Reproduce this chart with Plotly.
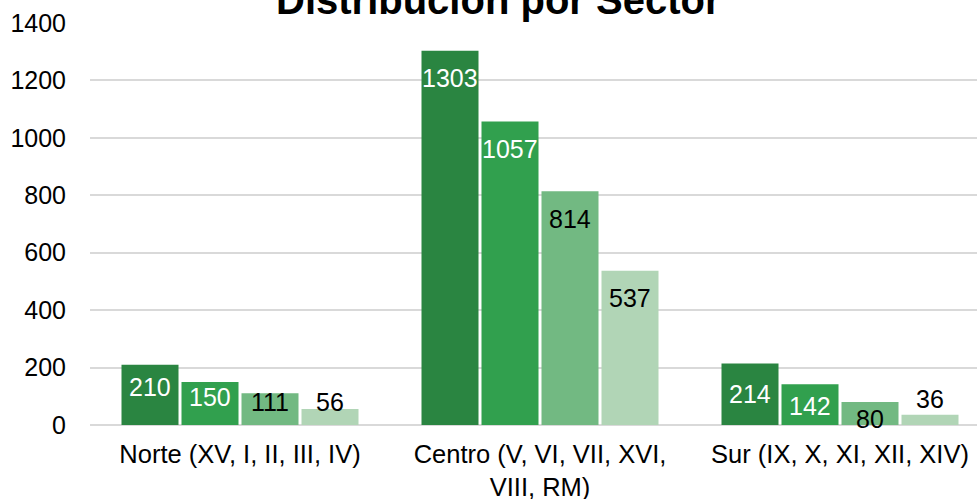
import plotly.graph_objects as go

categories = ["Norte (XV, I, II, III, IV)", "Centro (V, VI, VII, XVI,<br>VIII, RM)", "Sur (IX, X, XI, XII, XIV)"]
series_names = ["Serie 1", "Serie 2", "Serie 3", "Serie 4"]
values = [
    [210, 1303, 214],
    [150, 1057, 142],
    [111, 814, 80],
    [56, 537, 36],
]
y_ticks = [0, 200, 400, 600, 800, 1000, 1200, 1400]

colors = ["#2A8541", "#31A04E", "#72B982", "#B1D5B6"]
label_colors = ["white", "white", "black", "black"]
# vertical offset (px, downward) of each label centre from the bar top, as in the reference
label_offsets = [
    [22, 27, 30],
    [15, 28, 22],
    [9, 28, 17],
    [-7, 27, -16],
]

FONT = "Liberation Sans, Arial, sans-serif"

fig = go.Figure()
xs = list(range(len(categories)))
for i, name in enumerate(series_names):
    fig.add_trace(go.Bar(
        x=xs, y=values[i], name=name,
        marker=dict(color=colors[i], line=dict(width=0)),
        showlegend=False,
    ))

annotations = []
for i in range(len(series_names)):
    for j in range(len(categories)):
        annotations.append(dict(
            x=j + (i - 1.5) * 0.2, y=values[i][j], xref="x", yref="y",
            text=str(values[i][j]), showarrow=False,
            yanchor="middle", xanchor="center",
            yshift=-label_offsets[i][j],
            font=dict(family=FONT, size=25, color=label_colors[i]),
        ))

annotations.append(dict(
    text="<b>Distribución por Sector</b>", xref="paper", yref="paper",
    x=0.461, y=1, yanchor="bottom", xanchor="center", yshift=-1,
    showarrow=False, font=dict(family=FONT, size=40, color="black"),
))

fig.update_layout(
    width=977, height=499,
    margin=dict(l=90, r=0, t=23, b=74, autoexpand=False),
    paper_bgcolor="white", plot_bgcolor="white",
    barmode="group", bargap=0.2, bargroupgap=0.05,
    annotations=annotations,
    font=dict(family=FONT, size=24, color="black"),
)
fig.update_xaxes(
    tickmode="array", tickvals=xs, ticktext=categories, automargin=False,
    range=[-0.5, -0.5 + 887 / 300], showgrid=False, zeroline=False,
    showline=False, ticks="", ticklabelstandoff=11,
    tickfont=dict(family=FONT, size=25.5, color="black"),
)
fig.update_yaxes(
    range=[0, 1400], tickvals=y_ticks, showgrid=True, gridcolor="#D9D9D9",
    gridwidth=1.5, zeroline=True, zerolinecolor="#D9D9D9", zerolinewidth=1.5,
    ticks="", ticklabelstandoff=23, automargin=False,
    tickfont=dict(family=FONT, size=25, color="black"),
)

fig.write_html(
    "out.html",
    config={"displayModeBar": False},
    post_script="document.body.style.margin='0';document.body.style.overflow='hidden';",
)
